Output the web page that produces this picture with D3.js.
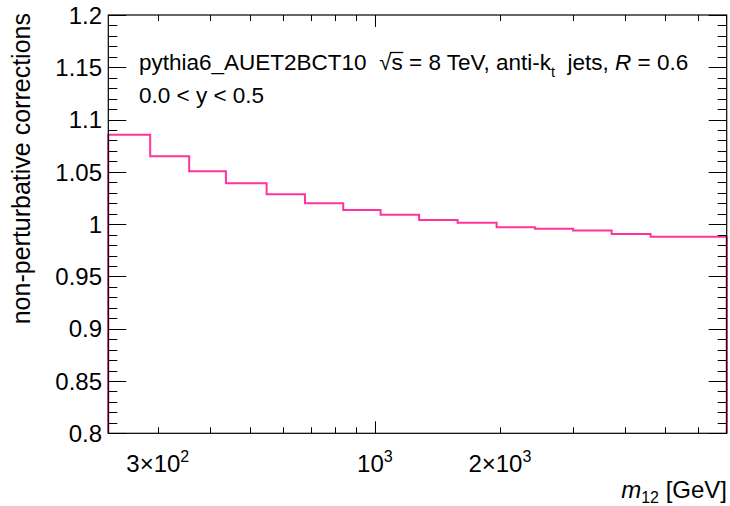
<!DOCTYPE html>
<html>
<head>
<meta charset="utf-8">
<script src="https://cdn.jsdelivr.net/npm/d3@7"></script>
<style>
  html, body { margin: 0; padding: 0; background: #fff; }
  svg { display: block; font-family: "Liberation Sans", Arial, Helvetica, sans-serif; }
  text { white-space: pre; }
</style>
</head>
<body>
<svg id="chart" width="730" height="506"></svg>
<script>
// ---- data ----
const binEdges = [228, 287.6, 357, 437.7, 548.6, 678.5, 838.9, 1032, 1278, 1582, 1964, 2429, 3002, 3717, 4613, 5706, 7035];
const corrections = [1.0855, 1.0649, 1.0505, 1.0391, 1.0286, 1.0199, 1.0135, 1.0090, 1.0040, 1.0014, 0.9970, 0.9956, 0.9939, 0.9906, 0.9880, 0.9880];
const yMajorTicks = [0.8, 0.85, 0.9, 0.95, 1.0, 1.05, 1.1, 1.15, 1.2];
const yTickLabels = ["0.8", "0.85", "0.9", "0.95", "1", "1.05", "1.1", "1.15", "1.2"];
const xMinorTicks = [300, 400, 500, 600, 700, 800, 900, 2000, 3000, 4000, 5000, 6000, 7000];
const xMajorTicks = [1000];
const xTickLabels = [
  { v: 300, mant: "3\u00d710", exp: "2" },
  { v: 1000, mant: "10", exp: "3" },
  { v: 2000, mant: "2\u00d710", exp: "3" }
];

(function () {
// ---- layout ----
const pL = 108.3, pR = 726.7, pT = 15, pB = 433.3;
const svg = d3.select("#chart");
const FS = 24;

const x = d3.scaleLog().domain([binEdges[0], binEdges[binEdges.length - 1]]).range([pL, pR]);
const y = d3.scaleLinear().domain([0.8, 1.2]).range([pB, pT]);

const lineColor = "#ff3399";

// ---- histogram outline ----
const pts = [[x(binEdges[0]), pB]];
corrections.forEach((v, i) => {
  pts.push([x(binEdges[i]), y(v)]);
  pts.push([x(binEdges[i + 1]), y(v)]);
});
pts.push([x(binEdges[binEdges.length - 1]), pB]);

svg.append("path")
  .attr("d", d3.line()(pts))
  .attr("fill", "none")
  .attr("stroke", lineColor)
  .attr("stroke-width", 2);

// ---- frame ----
svg.append("rect")
  .attr("x", pL).attr("y", pT)
  .attr("width", pR - pL).attr("height", pB - pT)
  .attr("fill", "none").attr("stroke", "#000").attr("stroke-width", 1.2);

// ---- y ticks ----
const yMinor = d3.range(80, 121).map(d => d / 100);
const tg = svg.append("g").attr("stroke", "#000").attr("stroke-width", 1);
yMinor.forEach(v => {
  const isMajor = Math.abs(Math.round(v * 20) - v * 20) < 1e-6;
  const len = isMajor ? 18 : 9;
  const yy = Math.round(y(v)) + 0.5;
  tg.append("line").attr("x1", pL).attr("x2", pL + len).attr("y1", yy).attr("y2", yy);
  tg.append("line").attr("x1", pR).attr("x2", pR - len).attr("y1", yy).attr("y2", yy);
});

// y labels
yMajorTicks.forEach((v, i) => {
  svg.append("text")
    .attr("x", 102).attr("y", y(v))
    .attr("dy", "0.36em")
    .attr("text-anchor", "end")
    .attr("font-size", FS)
    .attr("fill", "#000")
    .text(yTickLabels[i]);
});

// ---- x ticks ----
xMinorTicks.forEach(v => {
  const xx = Math.round(x(v)) + 0.5;
  tg.append("line").attr("x1", xx).attr("x2", xx).attr("y1", pB).attr("y2", pB - 6);
  tg.append("line").attr("x1", xx).attr("x2", xx).attr("y1", pT).attr("y2", pT + 6);
});
xMajorTicks.forEach(v => {
  const xx = Math.round(x(v)) + 0.5;
  tg.append("line").attr("x1", xx).attr("x2", xx).attr("y1", pB).attr("y2", pB - 12);
  tg.append("line").attr("x1", xx).attr("x2", xx).attr("y1", pT).attr("y2", pT + 12);
});

// x labels
xTickLabels.forEach(d => {
  const t = svg.append("text")
    .attr("x", x(d.v)).attr("y", 472)
    .attr("text-anchor", "middle")
    .attr("font-size", FS)
    .attr("fill", "#000");
  t.append("tspan").text(d.mant);
  t.append("tspan").attr("font-size", 16).attr("dy", -10).text(d.exp);
});

// x title
const xt = svg.append("text")
  .attr("x", 727).attr("y", 498)
  .attr("text-anchor", "end")
  .attr("font-size", FS)
  .attr("fill", "#000");
xt.append("tspan").attr("font-style", "italic").text("m");
xt.append("tspan").attr("font-size", 16).attr("dy", 5).text("12");
xt.append("tspan").attr("dy", -5).text(" [GeV]");

// y title
svg.append("text")
  .attr("transform", "translate(30," + 13 + ") rotate(-90)")
  .attr("text-anchor", "end")
  .attr("font-size", 25)
  .attr("fill", "#000")
  .text("non-perturbative corrections");

// ---- annotation ----
const AF = 22.5;
const by = 70;
const a1 = svg.append("text")
  .attr("x", 139).attr("y", by)
  .attr("font-size", AF)
  .attr("fill", "#000");
a1.append("tspan").text("pythia6_AUET2BCT10  ");
a1.append("tspan").text("\u221A");
const sTs = a1.append("tspan").text("s");
a1.append("tspan").text(" = 8 TeV, anti-k");
a1.append("tspan").attr("font-size", 14.5).attr("dy", 7).text("t");
a1.append("tspan").attr("dy", -7).text("  jets, ");
a1.append("tspan").attr("font-style", "italic").text("R");
a1.append("tspan").text(" = 0.6");

// radical bar over s, placed from measured glyph extents
const n = sTs.node();
const s0 = n.getStartPositionOfChar(0).x;
const s1 = n.getEndPositionOfChar(0).x;
svg.append("line")
  .attr("x1", s0 - 1.5).attr("x2", s1 + 0.5)
  .attr("y1", by - 17.5).attr("y2", by - 17.5)
  .attr("stroke", "#000").attr("stroke-width", 1.3);

svg.append("text")
  .attr("x", 139).attr("y", 103)
  .attr("font-size", AF)
  .attr("fill", "#000")
  .text("0.0 < y < 0.5");
})();
</script>
</body>
</html>
